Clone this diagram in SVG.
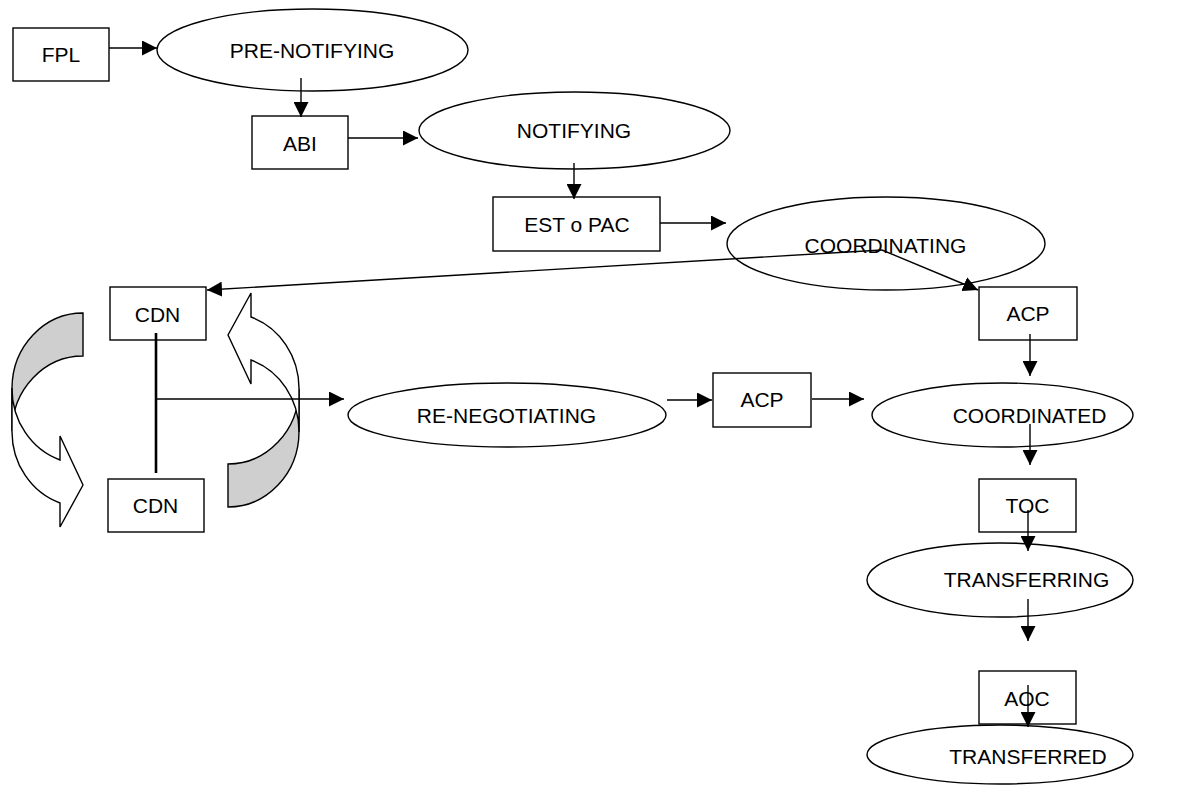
<svg xmlns="http://www.w3.org/2000/svg" width="1181" height="785" viewBox="0 0 1181 785">
<defs>
<style>
.box{fill:#fff;stroke:#000;stroke-width:1.4}
.ell{fill:#fff;stroke:#000;stroke-width:1.4}
.t{font-family:"Liberation Sans",Arial,sans-serif;font-size:21px;fill:#000;text-anchor:middle}
.c{fill:none;stroke:#000;stroke-width:1.4}
.back{fill:#cfcfcf;stroke:#000;stroke-width:1.4}
.front{fill:#fff;stroke:#000;stroke-width:1.4}
</style>
<marker id="ah" markerUnits="userSpaceOnUse" markerWidth="15" markerHeight="15" refX="15" refY="7.5" orient="auto">
<path d="M0,0 L15,7.5 L0,15 Z" fill="#000"/>
</marker>
<g id="curvedArrowShape">
<path class="back" d="M83,313 A71 75.5 0 0 0 12,388 L12,431 A71 75.5 0 0 1 83,356 Z"/>
<path class="front" d="M12,388 A71 75.5 0 0 0 60,460 L60,436 L83,485 L60,527 L60,503 A71 75.5 0 0 1 12,431 Z"/>
</g>
</defs>
<rect width="1181" height="785" fill="#fff"/>

<g id="loop-left"><use href="#curvedArrowShape"/></g>
<g id="loop-right"><use href="#curvedArrowShape" transform="rotate(180 155.5 410)"/></g>

<g id="fpl"><rect class="box" x="13" y="28" width="96" height="53"/><text class="t" x="61" y="62">FPL</text></g>
<g id="pre-notifying"><ellipse class="ell" cx="312.5" cy="50" rx="155.5" ry="41"/><text class="t" x="312" y="58">PRE-NOTIFYING</text></g>
<g id="abi"><rect class="box" x="252" y="116" width="96" height="53"/><text class="t" x="300" y="151">ABI</text></g>
<g id="notifying"><ellipse class="ell" cx="574.5" cy="130.5" rx="155.5" ry="38.5"/><text class="t" x="574" y="138">NOTIFYING</text></g>
<g id="est-pac"><rect class="box" x="493" y="197" width="167" height="54"/><text class="t" x="577" y="232">EST o PAC</text></g>
<g id="coordinating"><ellipse class="ell" cx="886" cy="243.5" rx="159" ry="46.5"/><text class="t" x="885.5" y="252.5">COORDINATING</text></g>
<g id="cdn-top"><rect class="box" x="110" y="287" width="96" height="53"/><text class="t" x="157.5" y="321.5">CDN</text></g>
<g id="cdn-bottom"><rect class="box" x="108" y="479" width="96" height="53"/><text class="t" x="155.5" y="513">CDN</text></g>
<g id="acp-right"><rect class="box" x="979" y="287" width="98" height="53"/><text class="t" x="1028" y="321">ACP</text></g>
<g id="re-negotiating"><ellipse class="ell" cx="507" cy="415" rx="159" ry="32"/><text class="t" x="506.5" y="423">RE-NEGOTIATING</text></g>
<g id="acp-middle"><rect class="box" x="713" y="373" width="98" height="54"/><text class="t" x="762" y="407">ACP</text></g>
<g id="coordinated"><ellipse class="ell" cx="1002.5" cy="415" rx="130.5" ry="32"/><text class="t" x="1029.5" y="423">COORDINATED</text></g>
<g id="toc"><rect class="box" x="979" y="479" width="97" height="53"/><text class="t" x="1027.5" y="513">TOC</text></g>
<g id="transferring"><ellipse class="ell" cx="1000" cy="580" rx="133" ry="37"/><text class="t" x="1026.5" y="586.5">TRANSFERRING</text></g>
<g id="aoc"><rect class="box" x="979" y="671" width="97" height="53"/><text class="t" x="1027" y="705.5">AOC</text></g>
<g id="transferred"><ellipse class="ell" cx="1000" cy="754.5" rx="133" ry="29.5"/><text class="t" x="1028" y="764">TRANSFERRED</text></g>

<g id="connectors">
<line class="c" x1="109" y1="48" x2="157" y2="48" marker-end="url(#ah)"/>
<line class="c" x1="301" y1="78" x2="301" y2="117" marker-end="url(#ah)"/>
<line class="c" x1="348" y1="138" x2="418" y2="138" marker-end="url(#ah)"/>
<line class="c" x1="574" y1="163" x2="574" y2="199" marker-end="url(#ah)"/>
<line class="c" x1="660" y1="223" x2="726" y2="223" marker-end="url(#ah)"/>
<line class="c" x1="882" y1="250" x2="207" y2="290" marker-end="url(#ah)"/>
<line class="c" x1="882" y1="250" x2="978" y2="290" marker-end="url(#ah)"/>
<line class="c" x1="1030" y1="334" x2="1030" y2="376" marker-end="url(#ah)"/>
<line x1="156" y1="333" x2="156" y2="473" stroke="#000" stroke-width="2.6"/>
<line class="c" x1="156" y1="399" x2="344" y2="399" marker-end="url(#ah)"/>
<line class="c" x1="667" y1="400" x2="712" y2="400" marker-end="url(#ah)"/>
<line class="c" x1="812" y1="399" x2="864" y2="399" marker-end="url(#ah)"/>
<line class="c" x1="1030" y1="424" x2="1030" y2="465" marker-end="url(#ah)"/>
<line class="c" x1="1028" y1="510" x2="1028" y2="551" marker-end="url(#ah)"/>
<line class="c" x1="1028" y1="599" x2="1028" y2="641" marker-end="url(#ah)"/>
<line class="c" x1="1028" y1="685" x2="1028" y2="727" marker-end="url(#ah)"/>
</g>
</svg>
